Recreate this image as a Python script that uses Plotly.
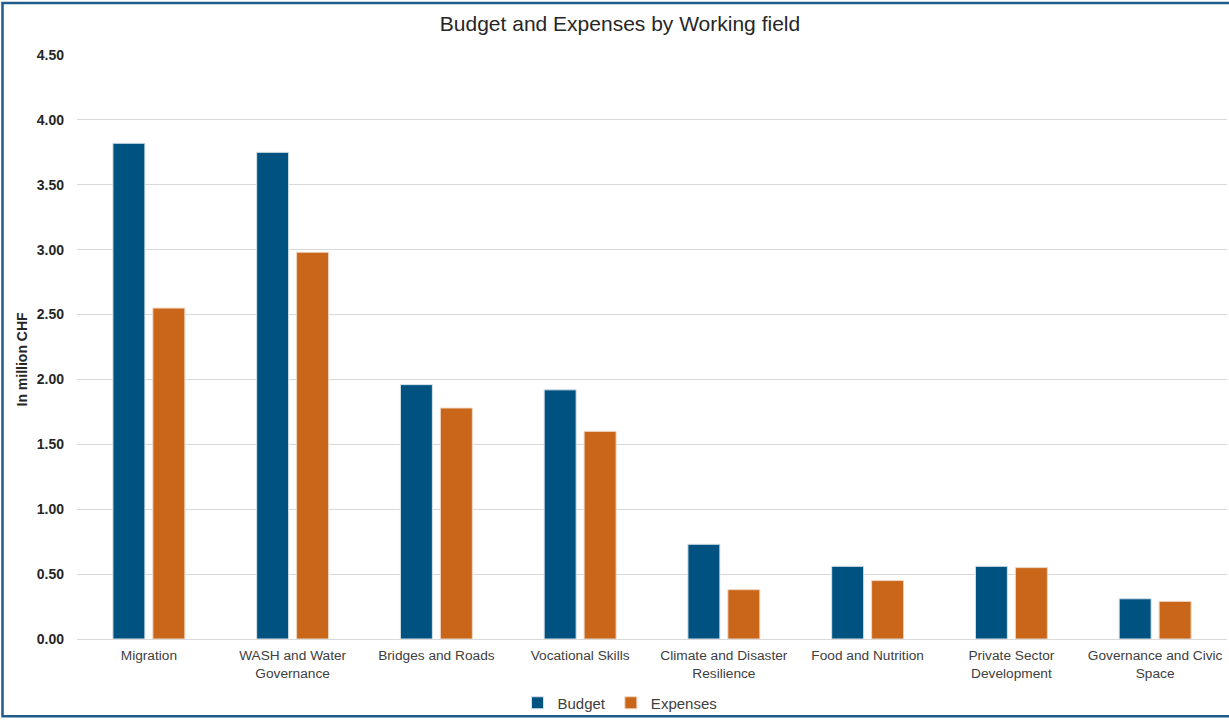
import plotly.graph_objects as go

categories = ["Migration", "WASH and Water<br>Governance", "Bridges and Roads", "Vocational Skills",
              "Climate and Disaster<br>Resilience", "Food and Nutrition", "Private Sector<br>Development",
              "Governance and Civic<br>Space"]
budget = [3.82, 3.75, 1.96, 1.92, 0.73, 0.56, 0.56, 0.31]
expenses = [2.55, 2.98, 1.78, 1.60, 0.38, 0.45, 0.55, 0.29]
tick_vals = [0, 0.5, 1.0, 1.5, 2.0, 2.5, 3.0, 3.5, 4.0, 4.5]

W, H = 1229, 720
ml, mr, mt, mb = 77, 2, 55, 80
pw = W - ml - mr
ph = H - mt - mb

fig = go.Figure()
fig.add_trace(go.Bar(name="Budget", x=categories, y=budget,
                     marker=dict(color="#005280", line=dict(color="#d6e2ea", width=1))))
fig.add_trace(go.Bar(name="Expenses", x=categories, y=expenses,
                     marker=dict(color="#C96619", line=dict(color="#f0d6c2", width=1))))

def px_x(p):
    return (p - ml) / pw

def px_y(p):
    return (H - mb - p) / ph

fig.update_layout(
    width=W, height=H,
    margin=dict(l=ml, r=mr, t=mt, b=mb),
    paper_bgcolor="white", plot_bgcolor="white",
    font=dict(family="Liberation Sans, Arial, sans-serif", size=13, color="#404040"),
    title=dict(text="Budget and Expenses by Working field", x=px_x(620), xref="paper",
               xanchor="center", y=1 - 24 / H, yanchor="middle",
               font=dict(size=21, color="#262626")),
    barmode="group", bargap=0.444, bargroupgap=0.2,
    legend=dict(orientation="h", x=px_x(620), xanchor="center", y=px_y(703), yanchor="middle",
                font=dict(size=15, color="#404040"), itemwidth=30, traceorder="normal",
                bgcolor="rgba(0,0,0,0)"),
    xaxis=dict(showgrid=False, showline=True, linecolor="#d9d9d9", linewidth=1,
               tickfont=dict(size=13.7, color="#404040"), ticks="", ticklabelstandoff=4),
    yaxis=dict(range=[0, 4.5], tickvals=tick_vals, tickformat=".2f",
               showgrid=True, gridcolor="#d9d9d9", gridwidth=1, zeroline=False,
               tickfont=dict(size=14, color="#262626", weight="bold",
                             family="Liberation Sans, Arial, sans-serif"),
               ticklabelstandoff=12),
    annotations=[dict(text="In million CHF", xref="paper", yref="paper",
                      x=px_x(22), y=px_y(360), xanchor="center", yanchor="middle",
                      textangle=-90, showarrow=False,
                      font=dict(size=14, color="#262626", weight="bold"))],
    shapes=[dict(type="rect", xref="paper", yref="paper",
                 x0=px_x(2.5), x1=px_x(1235), y0=px_y(717.5), y1=px_y(3),
                 line=dict(color="#1F5C8B", width=2.5), fillcolor="rgba(0,0,0,0)", layer="above")],
)

fig.write_html("out.html", config={"displayModeBar": False},
               post_script="document.body.style.margin='0';document.body.style.overflow='hidden';")
